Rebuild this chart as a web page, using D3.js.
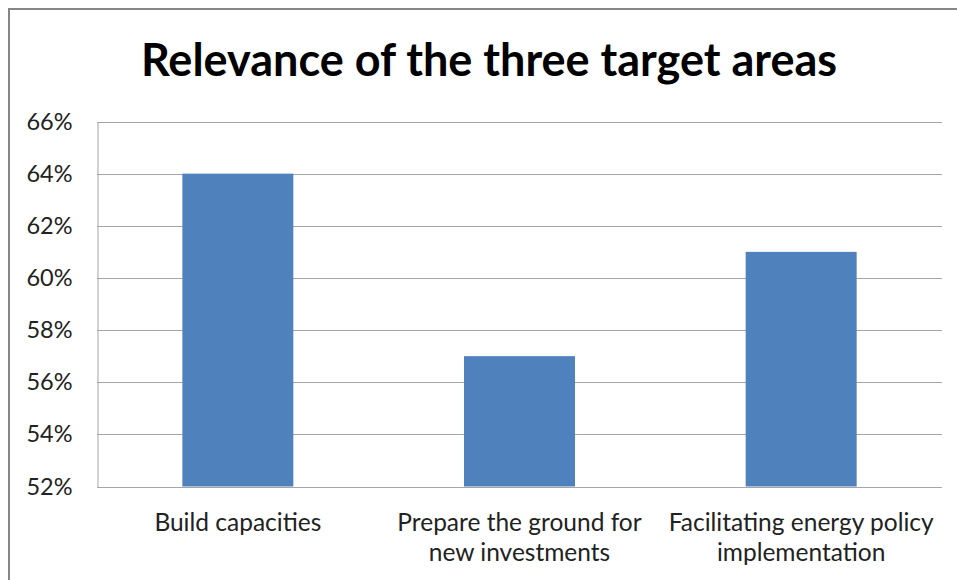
<!DOCTYPE html>
<html>
<head>
<meta charset="utf-8">
<script src="https://cdn.jsdelivr.net/npm/d3@7"></script>
<style>
  body { margin: 0; background: #fff; }
  svg { display: block; font-family: Lato, "Open Sans", sans-serif; }
</style>
</head>
<body>
<svg id="chart" width="957" height="580"></svg>
<script>
const categories = [
    ["Build capacities"],
    ["Prepare the ground for", "new investments"],
    ["Facilitating energy policy", "implementation"]
];
const values = [0.64, 0.57, 0.61];
const yTicks = [0.52, 0.54, 0.56, 0.58, 0.60, 0.62, 0.64, 0.66];
const title = "Relevance of the three target areas";

const width = 957
const height = 580
const plot = { left: 97, right: 942, top: 121.5, bottom: 486.5 }

const svg = d3.select("#chart");

// outer chart frame (right/bottom fall outside the picture)
svg.append("rect")
    .attr("x", 9)
    .attr("y", 9)
    .attr("width", 960)
    .attr("height", 600)
    .attr("fill", "#fff")
    .attr("stroke", "#868686")
    .attr("stroke-width", 2);

svg.append("text")
    .attr("x", 489)
    .attr("y", 76)
    .attr("text-anchor", "middle")
    .attr("font-size", 45)
    .attr("font-weight", "bold")
    .attr("fill", "#000")
    .text(title);

const x = d3.scaleBand()
    .domain(d3.range(categories.length))
    .range([plot.left, plot.right])
    .paddingInner(0.606)
    .paddingOuter(0.303);

const y = d3.scaleLinear()
    .domain([0.52, 0.66])
    .range([plot.bottom, plot.top]);

// gridlines
svg.append("g")
    .selectAll("line")
    .data(yTicks)
    .join("line")
        .attr("x1", plot.left)
        .attr("x2", plot.right)
        .attr("y1", d => Math.round(y(d)) + 0.5)
        .attr("y2", d => Math.round(y(d)) + 0.5)
        .attr("stroke", "#a6a6a6")
        .attr("stroke-width", 1);

// y axis
const yAxis = d3.axisLeft(y)
    .tickValues(yTicks)
    .tickFormat(d3.format(".0%"))
    .tickSize(0)
    .tickPadding(25);

const yG = svg.append("g")
    .attr("transform", `translate(${plot.left + 0.5},0)`)
    .call(yAxis);
yG.select(".domain").attr("stroke", "#a6a6a6");
yG.selectAll("text")
    .attr("font-size", 23.5)
    .attr("fill", "#222")
    .attr("font-family", "Lato, sans-serif");

// bars
svg.append("g")
    .selectAll("rect")
    .data(values)
    .join("rect")
        .attr("x", (d, i) => x(i))
        .attr("y", d => y(d))
        .attr("width", x.bandwidth())
        .attr("height", d => y(0.52) - y(d))
        .attr("fill", "#4f81bd");

// category labels
const labels = svg.append("g")
    .selectAll("text")
    .data(categories)
    .join("text")
        .attr("x", (d, i) => x(i) + x.bandwidth() / 2)
        .attr("y", 531)
        .attr("text-anchor", "middle")
        .attr("font-size", 24.5)
        .attr("fill", "#222");

labels.selectAll("tspan")
    .data(d => d)
    .join("tspan")
        .attr("x", function() { return this.parentNode.getAttribute("x"); })
        .attr("dy", (d, i) => i === 0 ? 0 : 30)
        .text(d => d);
</script>
</body>
</html>
